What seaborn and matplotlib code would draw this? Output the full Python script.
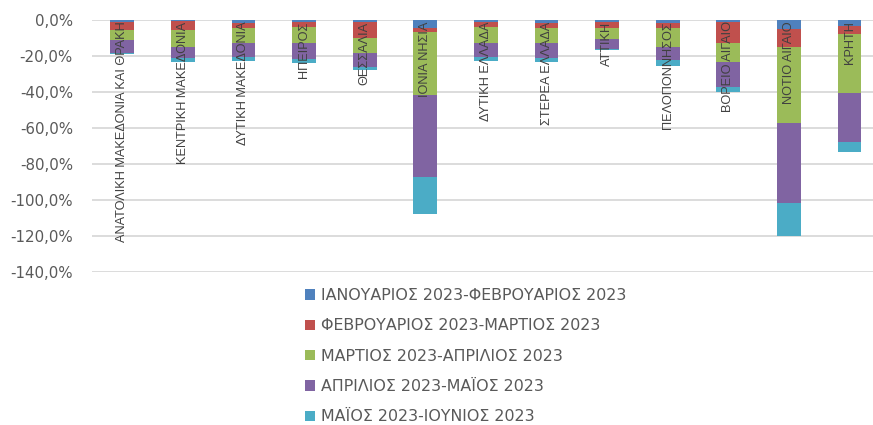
import matplotlib
matplotlib.use("Agg")
import matplotlib.pyplot as plt
from matplotlib.patches import Patch
from matplotlib.ticker import FuncFormatter
import seaborn as sns
import pandas as pd
import numpy as np

regions = [
    "ΑΝΑΤΟΛΙΚΗ ΜΑΚΕΔΟΝΙΑ ΚΑΙ ΘΡΑΚΗ", "ΚΕΝΤΡΙΚΗ ΜΑΚΕΔΟΝΙΑ", "ΔΥΤΙΚΗ ΜΑΚΕΔΟΝΙΑ",
    "ΗΠΕΙΡΟΣ", "ΘΕΣΣΑΛΙΑ", "ΙΟΝΙΑ ΝΗΣΙΑ", "ΔΥΤΙΚΗ ΕΛΛΑΔΑ", "ΣΤΕΡΕΑ ΕΛΛΑΔΑ",
    "ΑΤΤΙΚΗ", "ΠΕΛΟΠΟΝΝΗΣΟΣ", "ΒΟΡΕΙΟ ΑΙΓΑΙΟ", "ΝΟΤΙΟ ΑΙΓΑΙΟ", "ΚΡΗΤΗ",
]
series_names = [
    "ΙΑΝΟΥΑΡΙΟΣ 2023-ΦΕΒΡΟΥΑΡΙΟΣ 2023",
    "ΦΕΒΡΟΥΑΡΙΟΣ 2023-ΜΑΡΤΙΟΣ 2023",
    "ΜΑΡΤΙΟΣ 2023-ΑΠΡΙΛΙΟΣ 2023",
    "ΑΠΡΙΛΙΟΣ 2023-ΜΑΪΟΣ 2023",
    "ΜΑΪΟΣ 2023-ΙΟΥΝΙΟΣ 2023",
]
jan_feb = [-1.1, -0.6, -1.9, -0.9, -0.9, -4.6, -0.9, -1.9, -1.1, -1.9, -1.1, -5.0, -3.1]
feb_mar = [-4.5, -5.0, -2.4, -3.2, -8.9, -1.9, -2.8, -2.4, -3.2, -2.4, -11.9, -10.2, -4.9]
mar_apr = [-5.5, -9.2, -8.3, -8.5, -8.7, -35.2, -8.9, -8.7, -6.4, -10.5, -10.1, -42.2, -32.4]
apr_may = [-7.0, -6.1, -8.1, -9.3, -7.6, -45.3, -8.1, -7.9, -5.6, -7.4, -14.1, -44.1, -27.4]
may_jun = [-0.6, -2.6, -1.9, -1.8, -1.5, -20.8, -1.9, -2.6, -0.6, -3.4, -2.6, -18.5, -5.3]
y_ticks = [0, -20, -40, -60, -80, -100, -120, -140]

colors = ["#4F81BD", "#C0504D", "#9BBB59", "#8064A2", "#4BACC6"]

sns.set_theme(style="white")
plt.rcParams["font.family"] = ["DejaVu Sans"]

series = [jan_feb, feb_mar, mar_apr, apr_may, may_jun]
df = pd.DataFrame({"region": regions})
cum = np.zeros(len(regions))
cum_cols = []
for name, vals in zip(series_names, series):
    cum = cum + np.array(vals)
    df[name] = cum
    cum_cols.append(name)

fig = plt.figure(figsize=(8.73, 4.25), dpi=100)
ax = fig.add_axes([92 / 873, 1 - 272 / 425, 781 / 873, 252 / 425])

# draw cumulative totals back to front to form stacks
for name, col in reversed(list(zip(cum_cols, colors))):
    sns.barplot(data=df, x="region", y=name, color=col, width=0.39,
                saturation=1, ax=ax, zorder=3, edgecolor="none", linewidth=0)

ax.set_ylim(-140, 0)
ax.set_xlim(-0.5, -0.5 + 781 / 60.6)
ax.set_yticks(y_ticks)
ax.yaxis.set_major_formatter(FuncFormatter(lambda v, p: f"{v:.1f}%".replace(".", ",")))
ax.tick_params(axis="y", length=0, pad=13.7, labelsize=10.8, labelcolor="#595959")
ax.set_xticks([])
ax.set_xlabel("")
ax.set_ylabel("")
for s in ax.spines.values():
    s.set_visible(False)
ax.grid(axis="y", color="#D9D9D9", linewidth=1.3, zorder=0)
ax.set_axisbelow(True)

for i, r in enumerate(regions):
    ax.text(i, -0.8, r, rotation=90, ha="center", va="top", fontsize=9.2,
            family=["Liberation Sans", "DejaVu Sans"], color="#404040", zorder=5)

handles = [Patch(facecolor=c, edgecolor="none") for c in colors]
fig.legend(handles, series_names, loc="upper left",
           bbox_to_anchor=(305 / 873, 1 - 288 / 425), frameon=False,
           fontsize=11.4, labelcolor="#595959", handlelength=0.63, handleheight=0.63,
           handletextpad=0.35, labelspacing=0.97, borderpad=0, borderaxespad=0)

fig.savefig("out.png", dpi=100)
